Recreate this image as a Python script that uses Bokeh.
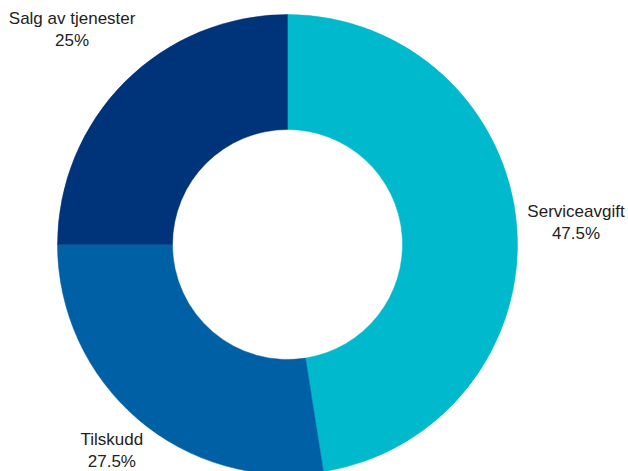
import math
from bokeh.plotting import figure
from bokeh.models import Range1d, ColumnDataSource
from bokeh.embed import file_html
from bokeh.resources import INLINE
from bokeh.core.properties import value

# ---- data ----
categories = ["Serviceavgift", "Tilskudd", "Salg av tjenester"]
shares = [47.5, 27.5, 25.0]
pct_labels = ["47.5%", "27.5%", "25%"]
colors = ["#00B9CD", "#0060A5", "#00347A"]

# ---- layout ----
W, H = 628, 471
CX, CY = 287, 244          # centre of the donut, px from figure top-left
R_OUT, R_IN = 230, 115
PAD = 10
CHAR_W = 7.6

total = sum(shares)
starts, ends, lx, ly = [], [], [], []
cum = 0.0
for name, s in zip(categories, shares):
    a0 = math.pi / 2 - 2 * math.pi * cum / total
    cum += s
    a1 = math.pi / 2 - 2 * math.pi * cum / total
    starts.append(a0)
    ends.append(a1)
    mid = (a0 + a1) / 2
    ux, uy = math.cos(mid), math.sin(mid)
    w = CHAR_W * len(name)
    r = R_OUT + PAD + w / 2
    lx.append(ux * r)
    ly.append(uy * r)

src = ColumnDataSource(dict(cat=categories, pct=pct_labels, start=starts, end=ends,
                            color=colors, lx=lx, ly=ly))

p = figure(width=W, height=H, x_range=Range1d(-CX, W - CX), y_range=Range1d(CY - H, CY),
           output_backend="svg", toolbar_location=None, min_border=0,
           x_axis_type=None, y_axis_type=None)
p.grid.visible = False
p.outline_line_color = None
p.background_fill_color = "white"
p.border_fill_color = "white"

p.annular_wedge(x=0, y=0, inner_radius=R_IN, outer_radius=R_OUT,
                start_angle="start", end_angle="end", direction="clock",
                fill_color="color", line_color="color", line_width=0.5, source=src)

p.text(x="lx", y="ly", text="cat", source=src, text_align="center", text_baseline="middle",
       y_offset=-10.5, text_font=value("Liberation Sans"), text_font_size="17px",
       text_color="#222222")
p.text(x="lx", y="ly", text="pct", source=src, text_align="center", text_baseline="middle",
       y_offset=11.5, text_font=value("Liberation Sans"), text_font_size="17px",
       text_color="#222222")

open("out.html", "w").write(file_html(p, INLINE))
